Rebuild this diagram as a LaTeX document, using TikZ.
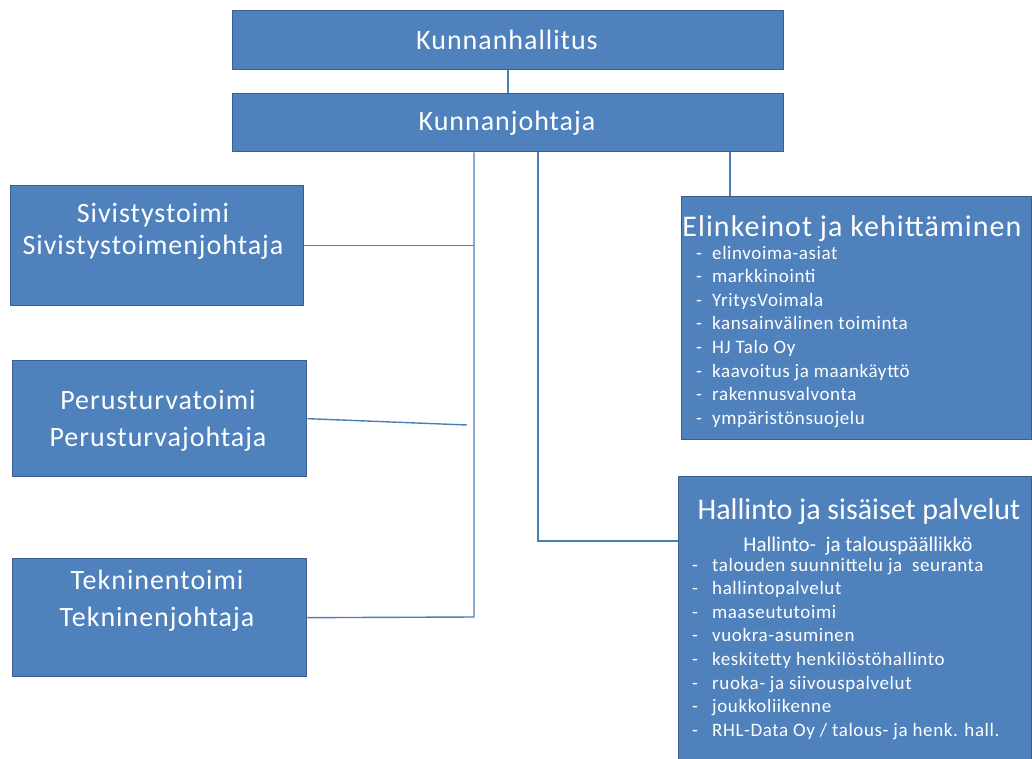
\documentclass[tikz,border=0pt]{standalone}
\usepackage{fontspec}
\setmainfont{Carlito}
\newfontfamily\bigfam[LetterSpace=3.5]{Carlito}
\newfontfamily\ttlfam[LetterSpace=3.5]{Carlito}
\newfontfamily\itemfam[LetterSpace=3.2]{Carlito}
\definecolor{boxfill}{HTML}{4F81BD}
\definecolor{boxline}{HTML}{3A5F8C}
\definecolor{conn}{HTML}{4A7EBB}
\begin{document}
\begin{tikzpicture}[x=1pt,y=-1pt,
  box/.style={draw=boxline, fill=boxfill, line width=1.3pt, inner sep=0pt, anchor=north west},
  big/.style={text=white, font=\bigfam\fontsize{28}{32}\selectfont, inner sep=0pt, anchor=base},
  ttl/.style={text=white, font=\ttlfam\fontsize{30}{34}\selectfont, inner sep=0pt, anchor=base},
  ttlb/.style={text=white, font=\fontsize{30}{34}\selectfont, inner sep=0pt, anchor=base},
  sub/.style={text=white, font=\fontsize{21}{25}\selectfont, inner sep=0pt, anchor=base},
  item/.style={text=white, font=\itemfam\fontsize{19}{22}\selectfont, inner sep=0pt, anchor=base west},
  conn/.style={draw=conn, line width=1.4pt}]
\useasboundingbox (0,0) rectangle (1032,758);
\fill[white] (0,0) rectangle (1032,758);

% boxes
\node[box, minimum width=551, minimum height=59] (kh) at (232,10) {};
\node[box, minimum width=551, minimum height=58] (kj) at (232,93) {};
\node[box, minimum width=293, minimum height=120] (siv) at (10,185) {};
\node[box, minimum width=294, minimum height=116] (per) at (12,360) {};
\node[box, minimum width=294, minimum height=118] (tek) at (12,558) {};
\node[box, minimum width=350, minimum height=243] (elk) at (681,196) {};
\node[box, minimum width=353, minimum height=300] (hal) at (678,476) {};

% connectors
\coordinate (jA) at (474,617);
\coordinate (pEnd) at (467,425);
\coordinate (hB) at (538,541);
\coordinate (eT) at (730,196);
\draw[conn] (kh.south) -- (kj.north);
\draw[conn] (kj.south -| jA) -- (jA) -- (tek.east);
\draw[conn] (siv.east) -- (siv.east -| jA);
\draw[conn] (per.east) -- (pEnd);
\draw[conn] (kj.south -| hB) -- (hB) -- (hB -| hal.west);
\draw[conn] (kj.south -| eT) -- (eT);

% texts
\node[big] (tkh) at (507,49) {Kunnanhallitus};
\node[big] (tkj) at (507,130) {Kunnanjohtaja};
\node[big] (ts1) at (153,222) {Sivistystoimi};
\node[big] (ts2) at (153,254) {Sivistystoimenjohtaja};
\node[big] (tp1) at (158,409) {Perusturvatoimi};
\node[big] (tp2) at (158,446) {Perusturvajohtaja};
\node[big] (tt1) at (157,589) {Tekninentoimi};
\node[big] (tt2) at (157,626) {Tekninenjohtaja};

\node[ttl] (te) at (852,236) {Elinkeinot ja kehittäminen};
\foreach \t [count=\i] in {elinvoima-asiat, markkinointi, YritysVoimala,
  kansainvälinen toiminta, HJ Talo Oy, kaavoitus ja maankäyttö,
  rakennusvalvonta, ympäristönsuojelu}{
  \node[item] (ed\i) at (696,{254+5+(\i-1)*23.6}) {-};
  \node[item] (e\i) at (712,{254+5+(\i-1)*23.6}) {\t};
}

\node[ttlb] (th) at (859,519) {Hallinto ja sisäiset palvelut};
\node[sub] (ths) at (858,551) {Hallinto-\ \ ja talouspäällikkö};
\foreach \t [count=\i] in {talouden suunnittelu ja\ \ seuranta, hallintopalvelut,
  maaseututoimi, vuokra-asuminen, keskitetty henkilöstöhallinto,
  ruoka- ja siivouspalvelut, joukkoliikenne,
  RHL-Data Oy / talous- ja henk. hall.}{
  \node[item] (hd\i) at (692,{566+5+(\i-1)*23.6}) {-};
  \node[item] (h\i) at (712,{566+5+(\i-1)*23.6}) {\t};
}
\end{tikzpicture}
\end{document}
